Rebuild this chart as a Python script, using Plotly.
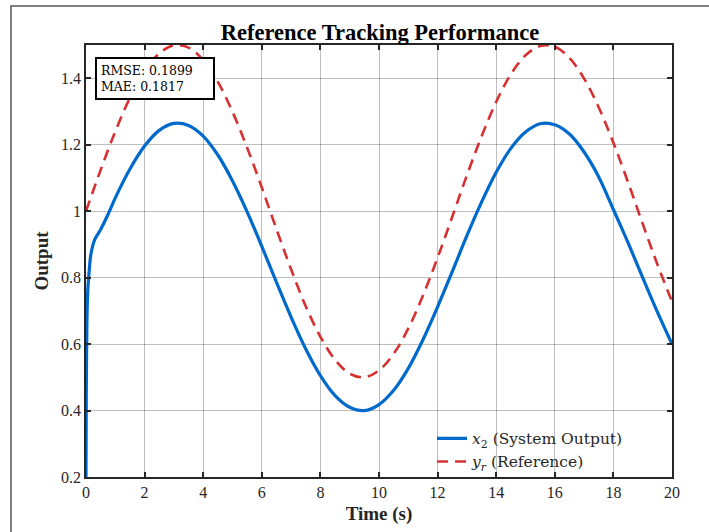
import plotly.graph_objects as go

# ---- data ----
t_sys = [0, 0.01, 0.03, 0.06, 0.1, 0.15, 0.2, 0.3, 0.4, 0.5, 0.75, 1.0,
         1.5, 2.0, 2.5, 3.0, 3.5, 4.0, 4.5, 5.0, 5.5, 6.0, 6.5, 7.0, 7.5,
         8.0, 8.5, 9.0, 9.5, 10.0, 10.5, 11.0, 11.5, 12.0, 12.5, 13.0,
         13.5, 14.0, 14.5, 15.0, 15.5, 16.0, 16.5, 17.0, 17.5, 18.0,
         18.5, 19.0, 19.5, 20.0]
x2 = [0.20, 0.45, 0.66, 0.76, 0.81, 0.86, 0.885, 0.915, 0.93, 0.945, 0.99, 1.04,
      1.127, 1.196, 1.243, 1.264, 1.258, 1.226, 1.169, 1.091, 0.998, 0.894,
      0.786, 0.681, 0.585, 0.505, 0.445, 0.410, 0.400, 0.418, 0.461, 0.527,
      0.613, 0.712, 0.818, 0.926, 1.027, 1.117, 1.189, 1.238, 1.263, 1.260,
      1.232, 1.178, 1.103, 1.005, 0.905, 0.800, 0.697, 0.600]

t_ref = [0, 0.5, 1.0, 1.5, 2.0, 2.5, 3.0, 3.5, 4.0, 4.5, 5.0, 5.5, 6.0, 6.5,
         7.0, 7.5, 8.0, 8.5, 9.0, 9.5, 10.0, 10.5, 11.0, 11.5, 12.0, 12.5,
         13.0, 13.5, 14.0, 14.5, 15.0, 15.5, 16.0, 16.5, 17.0, 17.5, 18.0,
         18.5, 19.0, 19.5, 20.0]
y_r = [1.000, 1.124, 1.240, 1.341, 1.421, 1.475, 1.499, 1.492, 1.455, 1.389,
       1.299, 1.191, 1.071, 0.946, 0.825, 0.714, 0.622, 0.553, 0.511, 0.500,
       0.521, 0.571, 0.647, 0.746, 0.860, 0.983, 1.108, 1.225, 1.329, 1.412,
       1.469, 1.497, 1.495, 1.461, 1.399, 1.312, 1.206, 1.087, 0.962, 0.840,
       0.728]

x_ticks = [0, 2, 4, 6, 8, 10, 12, 14, 16, 18, 20]
y_ticks = [0.2, 0.4, 0.6, 0.8, 1.0, 1.2, 1.4]
y_tick_labels = ["0.2", "0.4", "0.6", "0.8", "1", "1.2", "1.4"]

metrics_text = "RMSE: 0.1899<br>MAE: 0.1817"

SERIF = "Liberation Serif, Times New Roman, serif"
WIDE_SERIF = "DejaVu Serif, serif"

fig = go.Figure()
fig.add_trace(go.Scatter(
    x=t_sys, y=x2, mode="lines",
    name="<i>x</i><sub>2</sub> (System Output)",
    line=dict(color="rgb(0,106,204)", width=3.2, shape="spline", smoothing=0.9),
))
fig.add_trace(go.Scatter(
    x=t_ref, y=y_r, mode="lines",
    name="<i>y</i><sub><i>r</i></sub> (Reference)",
    line=dict(color="rgb(214,48,49)", width=2.6, dash="11px,7px",
              shape="spline", smoothing=1.0),
))

axis_common = dict(
    showline=True, linecolor="#262626", linewidth=1.5, mirror="ticks",
    ticks="inside", ticklen=5, tickwidth=1.5, tickcolor="#262626",
    showgrid=True, gridcolor="rgba(0,0,0,0.25)", gridwidth=1.3,
    zeroline=False,
    tickfont=dict(family=SERIF, size=16, color="#262626"),
)

fig.update_xaxes(
    range=[0, 20], tickvals=x_ticks,
    title=dict(text="<b>Time (s)</b>", font=dict(family=SERIF, size=19, color="#262626"),
               standoff=7),
    **axis_common,
)
fig.update_yaxes(
    range=[0.2, 1.5], tickvals=y_ticks, ticktext=y_tick_labels,
    title=dict(text="<b>Output</b>", font=dict(family=SERIF, size=19, color="#262626"),
               standoff=7),
    **axis_common,
)

fig.update_layout(
    width=709, height=532,
    margin=dict(l=86, r=37, t=45, b=55),
    paper_bgcolor="white", plot_bgcolor="white",
    title=dict(text="<b>Reference Tracking Performance</b>",
               font=dict(family=SERIF, size=22.5, color="#000000"),
               x=(380 / 709), xanchor="center", y=1 - 32 / 532, yanchor="middle"),
    showlegend=True,
    legend=dict(x=0.925, xanchor="right", y=0.128, yanchor="top",
                bgcolor="rgba(0,0,0,0)", borderwidth=0,
                font=dict(family=WIDE_SERIF, size=15.5, color="#262626"),
                itemwidth=30, tracegroupgap=0),
    annotations=[dict(
        text=metrics_text, x=0.016, y=0.972, xref="paper", yref="paper",
        xanchor="left", yanchor="top", align="left", showarrow=False,
        width=108,
        font=dict(family=WIDE_SERIF, size=12.5, color="#000000"),
        bgcolor="white", bordercolor="black", borderwidth=2, borderpad=4,
    )],
    shapes=[dict(type="rect", xref="paper", yref="paper",
                 x0=-0.128, x1=1.07, y0=-0.14, y1=1.0903,
                 line=dict(color="#555555", width=1.5), layer="below")],
)

fig.write_html("out.html")
